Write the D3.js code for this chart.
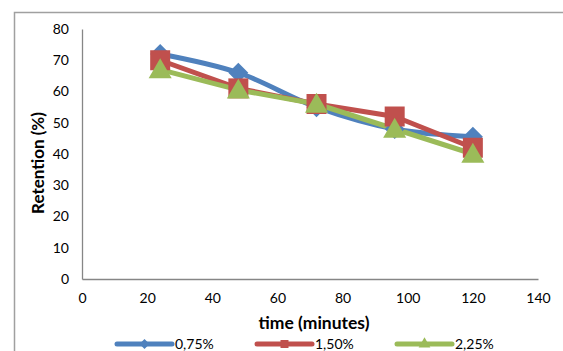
<!DOCTYPE html>
<html>
<head>
<meta charset="utf-8">
<script src="https://cdn.jsdelivr.net/npm/d3@7"></script>
<style>
  html, body { margin: 0; padding: 0; background: #fff; }
  svg { display: block; font-family: Lato, "Open Sans", sans-serif; }
</style>
</head>
<body>
<svg id="chart" width="563" height="351"></svg>
<script>
// Retention over time at three concentrations
const times = [24, 48, 72, 96, 120];
const seriesNames = ["0,75%", "1,50%", "2,25%"];
const retention075 = [72, 66, 55, 48, 45.5];
const retention150 = [70, 61, 56, 52, 42];
const retention225 = [67, 60.5, 56, 48, 40];
const xTicks = [0, 20, 40, 60, 80, 100, 120, 140];
const yTicks = [0, 10, 20, 30, 40, 50, 60, 70, 80];

// diamond drawn as a square turned 45 degrees
const squareDiamond = {
  draw(ctx, size) {
    const r = Math.sqrt(size / 2);
    ctx.moveTo(0, -r); ctx.lineTo(r, 0); ctx.lineTo(0, r); ctx.lineTo(-r, 0); ctx.closePath();
  }
};

const series = [
  { name: seriesNames[0], values: retention075, color: "#4F81BD", symbol: squareDiamond, size: 200, legendSize: 50, smooth: true, dy: 0 },
  { name: seriesNames[1], values: retention150, color: "#C0504D", symbol: d3.symbolSquare, size: 400, legendSize: 64, smooth: false, dy: 0 },
  { name: seriesNames[2], values: retention225, color: "#9BBB59", symbol: d3.symbolTriangle, size: 230, legendSize: 60, smooth: false, dy: 2 }
];

const svg = d3.select("#chart");
const axisColor = "#868686";

// outer chart frame
svg.append("path")
  .attr("d", "M14.5,351 L14.5,12.5 L563,12.5")
  .attr("fill", "none").attr("stroke", "#a0a0a0").attr("stroke-width", 1.5);

const x = d3.scaleLinear().domain([0, 140]).range([82, 538]);
const y = d3.scaleLinear().domain([0, 80]).range([279, 29]);

// axes without tick marks
const xAxis = svg.append("g").attr("transform", `translate(0,${y(0)})`)
  .call(d3.axisBottom(x).tickValues(xTicks).tickSize(0).tickPadding(14));
const yAxis = svg.append("g").attr("transform", `translate(${x(0)},0)`)
  .call(d3.axisLeft(y).tickValues(yTicks).tickSize(0).tickPadding(13));
[xAxis, yAxis].forEach(g => {
  g.select(".domain").attr("stroke", axisColor).attr("stroke-width", 1.3);
  g.selectAll("text").attr("font-family", "Lato, sans-serif").attr("font-size", 14).attr("fill", "#000");
});

// axis titles
svg.append("text")
  .attr("x", 314).attr("y", 329)
  .attr("text-anchor", "middle").attr("font-weight", "bold").attr("font-size", 17.5)
  .text("time (minutes)");
svg.append("text")
  .attr("transform", `translate(44,163) rotate(-90)`)
  .attr("text-anchor", "middle").attr("font-weight", "bold").attr("font-size", 17)
  .text("Retention (%)");

// series lines, then markers on top
series.forEach(s => {
  const line = d3.line()
    .x((d, i) => x(times[i]))
    .y(d => y(d))
    .curve(s.smooth ? d3.curveCatmullRom.alpha(0.5) : d3.curveLinear);
  svg.append("path")
    .datum(s.values)
    .attr("d", line)
    .attr("fill", "none").attr("stroke", s.color).attr("stroke-width", 5)
    .attr("stroke-linejoin", "round").attr("stroke-linecap", "round");
});
series.forEach(s => {
  svg.append("g").selectAll("path")
    .data(s.values)
    .join("path")
    .attr("transform", (d, i) => `translate(${x(times[i])},${y(d) + s.dy})`)
    .attr("d", d3.symbol().type(s.symbol).size(s.size))
    .attr("fill", s.color);
});

// legend
const legendX = [117, 257, 397];
const legend = svg.append("g").attr("transform", "translate(0,344)");
series.forEach((s, i) => {
  const g = legend.append("g").attr("transform", `translate(${legendX[i]},0)`);
  g.append("line").attr("x1", 0).attr("x2", 55).attr("y1", 0).attr("y2", 0)
    .attr("stroke", s.color).attr("stroke-width", 5).attr("stroke-linecap", "round");
  g.append("path").attr("transform", "translate(27.5,0)")
    .attr("d", d3.symbol().type(s.symbol).size(s.legendSize)).attr("fill", s.color);
  g.append("text").attr("x", 58).attr("y", 5).attr("font-size", 14).text(s.name);
});
</script>
</body>
</html>
